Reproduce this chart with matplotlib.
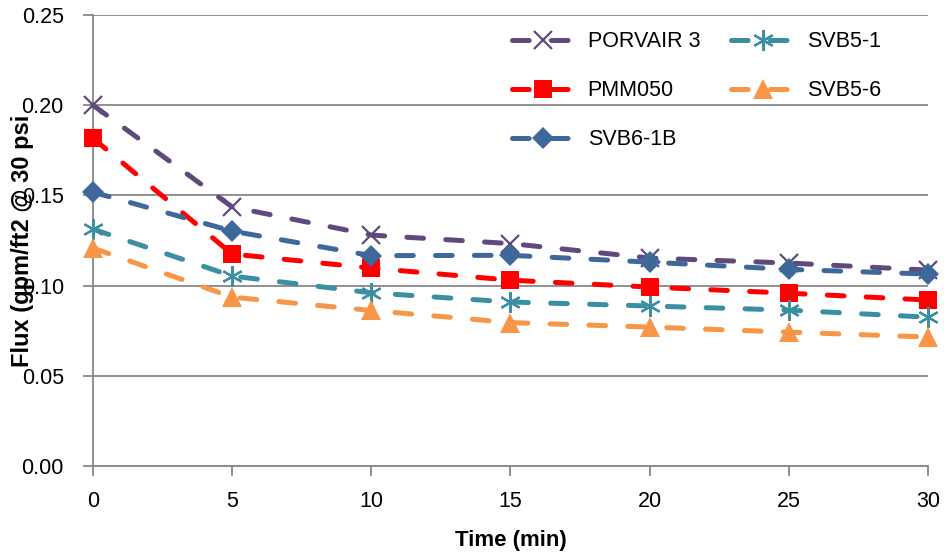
import matplotlib
matplotlib.use("Agg")
import matplotlib.pyplot as plt

plt.rcParams['font.family'] = ['Liberation Sans', 'DejaVu Sans']
plt.rcParams['lines.scale_dashes'] = False

time_min = [0, 5, 10, 15, 20, 25, 30]
porvair3 = [0.200, 0.1436, 0.128, 0.1233, 0.1153, 0.1125, 0.1086]
pmm050 = [0.1817, 0.1175, 0.1097, 0.1030, 0.0992, 0.0958, 0.0920]
svb6_1b = [0.1518, 0.1302, 0.1166, 0.1168, 0.1130, 0.1090, 0.1064]
svb5_1 = [0.1313, 0.1053, 0.0960, 0.0909, 0.0887, 0.0864, 0.0825]
svb5_6 = [0.1208, 0.0936, 0.0862, 0.0795, 0.0770, 0.0742, 0.0715]
labels = ["PORVAIR 3", "PMM050", "SVB6-1B", "SVB5-1", "SVB5-6"]
yticks = [0.00, 0.05, 0.10, 0.15, 0.20, 0.25]
xticks = [0, 5, 10, 15, 20, 25, 30]

fig = plt.figure(figsize=(9.45, 5.57), dpi=100)
ax = fig.add_axes([93/945, 1-466/557, (928-93)/945, (466-15)/557])

grey = '#878787'
dash = (12, 16)
styles = [
    dict(color='#604A7B', marker='x', ms=13, mew=1.6),
    dict(color='#FF0000', marker='s', ms=13, mew=0),
    dict(color='#3E679A', marker='D', ms=11, mew=0),
    dict(color='#3A8FA3', marker=(6, 2, 0), ms=15, mew=1.6),
    dict(color='#F79646', marker='^', ms=15, mew=0),
]
series = [porvair3, pmm050, svb6_1b, svb5_1, svb5_6]
handles = []
for vals, lab, st in zip(series, labels, styles):
    h, = ax.plot(time_min, vals, linestyle='--', dashes=dash, lw=3.6,
                 dash_capstyle='round', solid_capstyle='round',
                 color=st['color'], marker=st['marker'], ms=st['ms'],
                 mew=st['mew'], mec=st['color'], mfc=st['color'], label=lab,
                 clip_on=False, zorder=3)
    handles.append(h)

ax.set_xlim(0, 30)
ax.set_ylim(0, 0.25)
ax.set_xticks(xticks)
ax.set_yticks(yticks)
ax.set_yticklabels([f"{v:.2f}" for v in yticks])
ax.tick_params(axis='both', labelsize=15.5, length=7, width=1.3, color=grey,
               direction='out')
ax.tick_params(axis='y', pad=14)
ax.tick_params(axis='x', pad=11)
ax.yaxis.grid(True, color=grey, lw=1.3)
ax.set_axisbelow(True)
for s in ['top', 'right']:
    ax.spines[s].set_visible(False)
for s in ['left', 'bottom']:
    ax.spines[s].set_color(grey)
    ax.spines[s].set_linewidth(1.3)

ax.set_xlabel("Time (min)", fontsize=16, fontweight='bold', labelpad=13)
fig.text(23/945, 1-241/557, "Flux (gpm/ft2 @ 30 psi", rotation=90,
         fontsize=17, fontweight='bold', ha='center', va='center')

leg = ax.legend(handles=handles, ncol=2, loc='upper left',
                bbox_to_anchor=(495/945, 1-14/557), bbox_transform=fig.transFigure,
                frameon=False, fontsize=15.5, handlelength=2.9, handletextpad=0.6,
                labelspacing=1.3, columnspacing=1.45, borderpad=0.3)

fig.savefig("out.png", dpi=100)
